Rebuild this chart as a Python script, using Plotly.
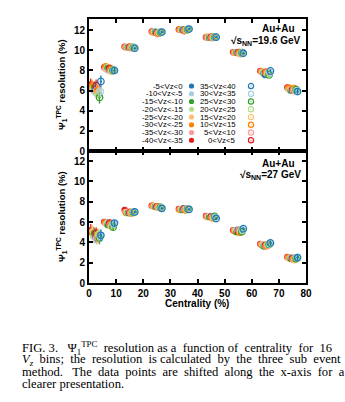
import plotly.graph_objects as go

# ---------------- data ----------------
centrality = [2.5, 7.5, 15, 25, 35, 45, 55, 65, 75]
# display shift along x for each Vz bin (as in the figure)
shifts = [-1.875, -1.625, -1.375, -1.125, -0.875, -0.625, -0.375, -0.125,
          0.125, 0.375, 0.625, 0.875, 1.125, 1.375, 1.625, 1.875]

vz_labels = ["-40<Vz<-35", "-35<Vz<-30", "-30<Vz<-25", "-25<Vz<-20",
             "-20<Vz<-15", "-15<Vz<-10", "-10<Vz<-5", "-5<Vz<0",
             "0<Vz<5", "5<Vz<10", "10<Vz<15", "15<Vz<20",
             "20<Vz<25", "25<Vz<30", "30<Vz<35", "35<Vz<40"]
colors = ["#e31a1c", "#fb9a99", "#ff7f00", "#fdbf6f", "#b2df8a", "#33a02c", "#a6cee3", "#1f78b4",
          "#e31a1c", "#fb9a99", "#ff7f00", "#fdbf6f", "#b2df8a", "#33a02c", "#a6cee3", "#1f78b4"]
filled = [True] * 8 + [False] * 8

# 19.6 GeV resolution (%) per Vz bin, per centrality bin
res196 = [
    [6.6, 8.3, 10.35, 11.85, 12.05, 11.30, 9.80, 7.95, 6.3],
    [6.3, 8.2, 10.30, 11.80, 12.00, 11.30, 9.75, 7.90, 6.2],
    [6.5, 8.4, 10.30, 11.75, 12.05, 11.35, 9.80, 7.90, 6.3],
    [6.2, 8.1, 10.35, 11.80, 12.00, 11.30, 9.75, 7.85, 6.1],
    [6.1, 8.3, 10.30, 11.85, 12.05, 11.30, 9.80, 7.80, 6.0],
    [6.3, 8.2, 10.30, 11.80, 12.00, 11.25, 9.75, 7.70, 6.0],
    [6.0, 8.0, 10.30, 11.85, 12.05, 11.30, 9.80, 7.70, 6.1],
    [6.2, 8.1, 10.30, 11.80, 12.05, 11.30, 9.80, 7.55, 6.0],
    [6.5, 8.2, 10.30, 11.70, 11.95, 11.30, 9.75, 7.80, 6.1],
    [6.0, 8.0, 10.25, 11.65, 11.95, 11.25, 9.70, 7.75, 6.0],
    [6.0, 8.1, 10.30, 11.70, 12.00, 11.30, 9.75, 7.80, 6.2],
    [5.8, 7.9, 10.30, 11.75, 12.00, 11.30, 9.65, 7.70, 6.1],
    [5.6, 8.0, 10.30, 11.80, 12.05, 11.30, 9.70, 7.70, 6.0],
    [5.3, 8.0, 10.25, 11.75, 12.05, 11.30, 9.75, 7.55, 6.1],
    [5.9, 8.0, 10.25, 11.80, 12.10, 11.30, 9.75, 7.80, 6.0],
    [6.9, 8.0, 10.20, 11.80, 12.10, 11.30, 9.70, 7.95, 5.9],
]
err196 = [0.6, 0.25, 0.1, 0.1, 0.08, 0.08, 0.1, 0.15, 0.3]

# 27 GeV resolution (%) per Vz bin, per centrality bin
res27 = [
    [5.2, 6.0, 7.20, 7.60, 7.30, 6.60, 5.20, 3.85, 2.55],
    [5.0, 5.9, 7.00, 7.55, 7.25, 6.55, 5.15, 3.80, 2.50],
    [4.9, 6.0, 6.90, 7.60, 7.20, 6.50, 5.10, 3.75, 2.50],
    [5.1, 5.8, 7.00, 7.55, 7.25, 6.55, 5.20, 3.80, 2.40],
    [4.6, 5.9, 6.90, 7.50, 7.30, 6.50, 5.15, 3.70, 2.45],
    [4.9, 5.7, 6.90, 7.50, 7.20, 6.50, 5.00, 3.60, 2.40],
    [4.5, 6.0, 6.95, 7.55, 7.30, 6.60, 5.20, 3.70, 2.50],
    [4.6, 5.8, 6.90, 7.50, 7.35, 6.55, 5.25, 3.75, 2.45],
    [4.9, 5.9, 6.95, 7.50, 7.30, 6.50, 5.10, 3.70, 2.40],
    [4.4, 5.7, 6.90, 7.45, 7.25, 6.45, 5.20, 3.65, 2.35],
    [4.7, 5.8, 6.90, 7.50, 7.20, 6.40, 5.00, 3.70, 2.40],
    [4.5, 5.6, 6.90, 7.45, 7.30, 6.35, 5.10, 3.75, 2.30],
    [4.8, 5.7, 6.95, 7.40, 7.25, 6.50, 5.20, 3.80, 2.45],
    [4.4, 5.5, 6.95, 7.45, 7.30, 6.55, 5.05, 3.80, 2.40],
    [4.6, 5.8, 7.00, 7.40, 7.30, 6.45, 5.20, 3.85, 2.50],
    [4.7, 5.9, 7.00, 7.35, 7.25, 6.35, 5.35, 3.95, 2.50],
]
err27 = [0.6, 0.3, 0.1, 0.1, 0.08, 0.1, 0.15, 0.2, 0.3]

# legend order (two columns, as in the figure)
legend_col1 = [7, 6, 5, 4, 3, 2, 1, 0]
legend_col2 = [15, 14, 13, 12, 11, 10, 9, 8]

# ---------------- figure ----------------
W, H = 345, 402
L, R, T, B = 89, 306, 19, 283


def px(x):
    return (x - L) / (R - L)


def py(y):
    return (B - y) / (B - T)


fig = go.Figure()

for panel, (data, err) in enumerate([(res196, err196), (res27, err27)]):
    ya = "y" if panel == 0 else "y2"
    for i in range(16):
        xs = [c + shifts[i] for c in centrality]
        fig.add_trace(go.Scatter(
            x=xs, y=data[i], mode="markers", xaxis="x", yaxis=ya,
            showlegend=False,
            error_y=dict(type="data", array=err, color=colors[i], thickness=1.2, width=0),
            marker=dict(
                symbol="circle" if filled[i] else "circle-open-dot",
                size=6.5,
                color=colors[i],
                line=dict(width=0 if filled[i] else 1.3, color=colors[i]),
            ),
        ))

axis_font = dict(family="Liberation Sans", size=10, color="black", weight="bold")
common = dict(showline=True, linecolor="black", linewidth=2, mirror="ticks",
              ticks="inside", ticklen=4, tickwidth=1.5, tickcolor="black",
              showgrid=False, zeroline=False, tickfont=axis_font)

fig.update_layout(
    width=W, height=H,
    margin=dict(l=L, r=W - R, t=T, b=H - B),
    paper_bgcolor="white", plot_bgcolor="white",
    xaxis=dict(range=[0, 80], tickvals=[0, 10, 20, 30, 40, 50, 60, 70, 80],
               anchor="y2", **common),
    xaxis2=dict(range=[0, 80], tickvals=[0, 10, 20, 30, 40, 50, 60, 70, 80],
                anchor="y", overlaying="x", showticklabels=False, **common),
    yaxis=dict(domain=[0.5, 1.0], range=[0, 13.1], tickvals=[0, 2, 4, 6, 8, 10, 12],
               anchor="x", **common),
    yaxis2=dict(domain=[0.0, 0.5], range=[0, 13.0], tickvals=[0, 2, 4, 6, 8, 10, 12],
                anchor="x", **common),
)
# empty trace so xaxis2 (top panel frame) is drawn
fig.add_trace(go.Scatter(x=[None], y=[None], xaxis="x2", yaxis="y", showlegend=False))

bold = dict(family="Liberation Sans", size=10, color="black", weight="bold")
ann = []
# energy labels
for ytop, energy in [(29, "19.6"), (163, "27")]:
    ann.append(dict(x=px(278), y=py(ytop), xref="paper", yref="paper", text="Au+Au",
                    showarrow=False, font=bold, xanchor="center", yanchor="middle"))
    ann.append(dict(x=px(303), y=py(ytop + 12), xref="paper", yref="paper",
                    text="√s<sub>NN</sub>=" + energy + " GeV",
                    showarrow=False, font=bold, xanchor="right", yanchor="middle"))

# y-axis titles
for yc in [85, 217]:
    ann.append(dict(x=px(61), y=py(yc), xref="paper", yref="paper",
                    text="Ψ<sub>1</sub><sup>TPC</sup> resolution (%)", textangle=-90,
                    showarrow=False, font=dict(family="Liberation Sans", size=9.5, color="black", weight="bold"),
                    xanchor="center", yanchor="middle"))
# x-axis title
ann.append(dict(x=px(197), y=py(303), xref="paper", yref="paper", text="Centrality (%)",
                showarrow=False, font=bold, xanchor="center", yanchor="middle"))

# manual legend (text left of marker)
leg_font = dict(family="Liberation Sans", size=7.8, color="black")
shapes = []
for col, (idxs, xtext, xmark) in enumerate([(legend_col1, 185, 191.5), (legend_col2, 238, 251)]):
    for k, i in enumerate(idxs):
        yy = 86 + 7.75 * k
        ann.append(dict(x=px(xtext), y=py(yy), xref="paper", yref="paper", text=vz_labels[i],
                        showarrow=False, font=leg_font, xanchor="right", yanchor="middle"))
        r = 2.6
        shapes.append(dict(type="circle", xref="paper", yref="paper",
                           x0=px(xmark - r), x1=px(xmark + r), y0=py(yy + r), y1=py(yy - r),
                           fillcolor=colors[i] if filled[i] else "rgba(0,0,0,0)",
                           line=dict(color=colors[i], width=0 if filled[i] else 1.2)))
        if not filled[i]:
            shapes.append(dict(type="circle", xref="paper", yref="paper",
                               x0=px(xmark - 0.6), x1=px(xmark + 0.6), y0=py(yy + 0.6), y1=py(yy - 0.6),
                               fillcolor=colors[i], line=dict(color=colors[i], width=0)))

# caption (extra spaces emulate the justified layout of the original)
cap_font = dict(family="Liberation Serif", size=12.6, color="black")
caption = [
    "FIG. 3.   Ψ<sub>1</sub><sup>TPC</sup>  resolution as a  function of  centrality  for  16",
    "<i>V<sub>z</sub></i>  bins;  the  resolution  is calculated  by  the  three  sub  event",
    "method.   The  data  points  are  shifted  along  the  x-axis  for  a",
    "clearer presentation.",
]
for k, line in enumerate(caption):
    ann.append(dict(x=px(20), y=py(348 + 12 * k), xref="paper", yref="paper", text=line,
                    showarrow=False, font=cap_font, xanchor="left", yanchor="middle"))

fig.update_layout(annotations=ann, shapes=shapes)
fig.write_html("out.html")
